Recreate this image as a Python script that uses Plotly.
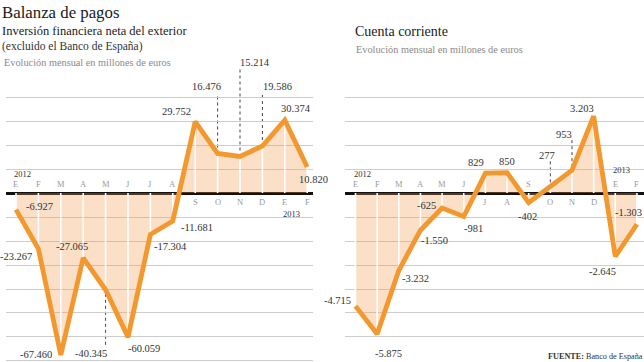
import plotly.graph_objects as go

# ---------------- data ----------------
months = ["E", "F", "M", "A", "M", "J", "J", "A", "S", "O", "N", "D", "E", "F"]
years = ["2012", "2013"]
year_index = [0, 12]

inv_values = [-6927, -23267, -67460, -27065, -40345, -60059, -17304, -11681,
              29752, 16476, 15214, 19586, 30374, 10820]
cc_values = [-4715, -5875, -3232, -1550, -625, -981, 829, 850,
             -402, 277, 953, 3203, -2645, -1303]

inv_grid = [-70000, -60000, -50000, -40000, -30000, -20000, -10000, 0,
            10000, 20000, 30000, 40000]
cc_grid = [-6000, -5000, -4000, -3000, -2000, -1000, 0, 1000, 2000, 3000, 4000]

# ---------------- label placement (pixels) ----------------
# (xanchor, xshift, yshift)
inv_lab = [("left", 8, 3), ("right", -4, -8), ("right", -7, 0), ("center", -11, 11),
           ("right", 3, -64), ("left", -2, -11), ("left", 2, -12), ("left", 6, -6),
           ("right", -2, 10), ("right", 5, 67), ("left", -2, 94), ("left", -1, 60),
           ("center", 11, 12), ("center", 6, -12)]
inv_leader = {4: (-4, -56), 9: (6, 60), 10: (6, 87), 11: (6, 53)}

cc_lab = [("right", -3, 6), ("center", 11, -20), ("left", 1, -8), ("left", -1, -10),
          ("right", -4, 3), ("left", -2, -12), ("right", 1, 11), ("center", 0, 11),
          ("center", -1, -14), ("center", -3, 31), ("right", 2, 36), ("right", 2, 8),
          ("right", 3, -15), ("right", 7, 12)]
cc_leader = {9: (4, 25), 10: (3, 30)}

ORANGE = "#F2982F"
FILL = "rgba(242,150,70,0.30)"
GRID = "#cdcdcd"
FONT = "Liberation Serif"


def fmt(v):
    s = f"{abs(v):,}".replace(",", ".")
    return ("-" if v < 0 else "") + s


fig = go.Figure()
annotations = []
shapes = []


def add_panel(values, xa, ya, labs, leaders, yr_shift):
    xs = list(range(len(values)))
    fig.add_trace(go.Scatter(x=xs, y=values, mode="none", fill="tozeroy",
                             fillcolor=FILL, xaxis=xa, yaxis=ya,
                             hoverinfo="skip", showlegend=False))
    vx, vy = [], []
    for i, v in enumerate(values):
        vx += [i, i, None]
        vy += [0, v, None]
    fig.add_trace(go.Scatter(x=vx, y=vy, mode="lines",
                             line=dict(color="white", width=1.6),
                             xaxis=xa, yaxis=ya, hoverinfo="skip", showlegend=False))
    fig.add_trace(go.Scatter(x=xs, y=values, mode="lines",
                             line=dict(color=ORANGE, width=4.8),
                             xaxis=xa, yaxis=ya, hoverinfo="skip", showlegend=False))
    for i, v in enumerate(values):
        anc, dx, dy = labs[i]
        annotations.append(dict(x=i, y=v, xref=xa, yref=ya, text=fmt(v),
                                showarrow=False, xanchor=anc, yanchor="middle",
                                xshift=dx, yshift=dy,
                                font=dict(family=FONT, size=10.5, color="#333333")))
        side = 1 if v < 0 else -1
        annotations.append(dict(x=i, y=0, xref=xa, yref=ya, text=months[i],
                                showarrow=False, xanchor="center", yanchor="middle",
                                yshift=9 * side,
                                font=dict(family=FONT, size=8.5, color="#9a9a9a")))
    for k, yi in enumerate(year_index):
        v = values[yi]
        side = 1 if v < 0 else -1
        annotations.append(dict(x=yi, y=0, xref=xa, yref=ya, text=years[k],
                                showarrow=False, xanchor="left", yanchor="middle",
                                xshift=-4, yshift=yr_shift[k] * side,
                                font=dict(family=FONT, size=8.5, color="#333333")))
    for i, (a, b) in leaders.items():
        shapes.append(dict(type="line", xref=xa, yref=ya, x0=i, x1=i,
                           ysizemode="pixel", yanchor=values[i], y0=a, y1=b,
                           line=dict(color="#444444", width=1, dash="dot"),
                           layer="below"))


add_panel(inv_values, "x", "y", inv_lab, inv_leader, [19, 21])
add_panel(cc_values, "x2", "y2", cc_lab, cc_leader, [19, 23])

W, H = 644, 362


def px(xp, yp):
    return xp / W, 1 - yp / H


texts = [
    ("Balanza de pagos", 0, 13, 16.8, "#1a1a1a", "left"),
    ("Inversión financiera neta del exterior", 0, 31, 12.5, "#1a1a1a", "left"),
    ("(excluido el Banco de España)", 0, 46, 11.5, "#333333", "left"),
    ("Evolución mensual en millones de euros", 2, 62, 10.3, "#8a8a8a", "left"),
    ("Cuenta corriente", 353, 31, 14, "#1a1a1a", "left"),
    ("Evolución mensual en millones de euros", 354, 50, 10.3, "#8a8a8a", "left"),
    ("<b>FUENTE:</b> Banco de España", 645, 356, 8.2, "#333333", "right"),
]
for t, xp, yp, sz, col, anc in texts:
    xx, yy = px(xp, yp)
    annotations.append(dict(x=xx, y=yy, xref="paper", yref="paper", text=t,
                            showarrow=False, xanchor=anc, yanchor="middle",
                            font=dict(family=FONT, size=sz, color=col)))

fig.update_layout(
    width=W, height=H, margin=dict(l=0, r=0, t=0, b=0),
    paper_bgcolor="white", plot_bgcolor="white", showlegend=False,
    xaxis=dict(domain=[6 / W, 313 / W], range=[-0.446, 13.259], showgrid=False,
               zeroline=False, showticklabels=False, ticks=""),
    yaxis=dict(domain=[0, 1], range=[-70420, 80420], tickvals=inv_grid,
               showgrid=True, gridcolor=GRID, gridwidth=1.3, showticklabels=False,
               zeroline=True, zerolinecolor="#111111", zerolinewidth=2.5, ticks=""),
    xaxis2=dict(domain=[345 / W, 1.0], range=[-0.485, 13.326], showgrid=False,
                zeroline=False, showticklabels=False, ticks="", anchor="y2"),
    yaxis2=dict(domain=[0, 1], range=[-7042, 8042], tickvals=cc_grid, anchor="x2",
                showgrid=True, gridcolor=GRID, gridwidth=1.3, showticklabels=False,
                zeroline=True, zerolinecolor="#111111", zerolinewidth=2.5, ticks=""),
    annotations=annotations,
    shapes=shapes,
)

fig.write_html("out.html", config={"displayModeBar": False},
               post_script="document.body.style.margin='0';document.body.style.overflow='hidden';")
